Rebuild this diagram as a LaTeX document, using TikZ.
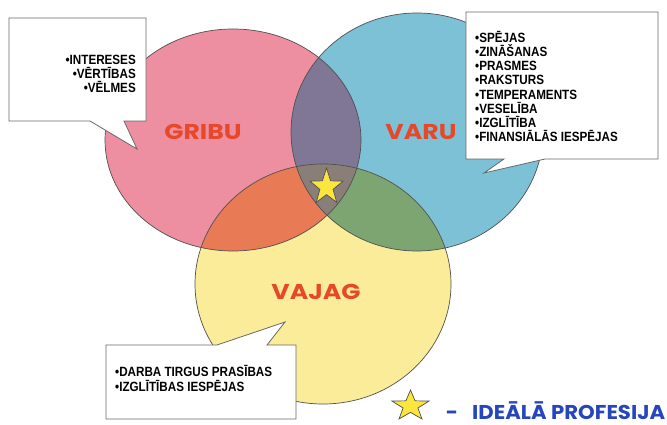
\documentclass[tikz,border=0pt]{standalone}
\usepackage{fontspec}
\setmainfont{Liberation Sans}
\newfontfamily\boxfont{Liberation Sans}[FakeStretch=0.87]
\newfontfamily\bigfont{Poppins}[FakeStretch=1.17]
\newfontfamily\legfont{Poppins}[FakeStretch=1.06]
\definecolor{pinkc}{RGB}{238,142,161}
\definecolor{bluec}{RGB}{124,193,213}
\definecolor{yellowc}{RGB}{250,236,152}
\definecolor{purplec}{RGB}{128,118,150}
\definecolor{orangec}{RGB}{232,122,86}
\definecolor{greenc}{RGB}{124,165,114}
\definecolor{centerc}{RGB}{138,126,120}
\definecolor{labelred}{RGB}{232,72,42}
\definecolor{legblue}{RGB}{38,70,190}
\definecolor{outlinec}{RGB}{80,80,80}
\definecolor{boxline}{RGB}{105,105,105}
\definecolor{starc}{RGB}{250,230,60}
\tikzset{
  outline/.style={draw=outlinec, line width=0.7pt},
  callout/.style={fill=white, draw=boxline, line width=0.8pt},
  boxtext/.style={inner sep=0pt, font=\boxfont\bfseries\fontsize{13.4}{14}\selectfont},
  biglabel/.style={inner sep=0pt, anchor=base, text=labelred, font=\bigfont\bfseries\fontsize{21.5}{24}\selectfont},
  starshape/.style={fill=starc, draw=outlinec, line width=0.7pt, line join=miter},
}
\begin{document}
\begin{tikzpicture}[x=1pt,y=-1pt]
\useasboundingbox (0,0) rectangle (667,425);
\fill[white] (0,0) rectangle (667,425);
% base circles
\fill[pinkc] (233,140) ellipse [x radius=128, y radius=111];
\fill[bluec] (417,132) ellipse [x radius=126, y radius=119];
\fill[yellowc] (323,284) ellipse [x radius=128, y radius=120];
% overlaps
\begin{scope}
  \clip (233,140) ellipse [x radius=128, y radius=111];
  \fill[purplec] (417,132) ellipse [x radius=126, y radius=119];
  \fill[orangec] (323,284) ellipse [x radius=128, y radius=120];
\end{scope}
\begin{scope}
  \clip (417,132) ellipse [x radius=126, y radius=119];
  \fill[greenc] (323,284) ellipse [x radius=128, y radius=120];
\end{scope}
\begin{scope}
  \clip (233,140) ellipse [x radius=128, y radius=111];
  \clip (417,132) ellipse [x radius=126, y radius=119];
  \fill[centerc] (323,284) ellipse [x radius=128, y radius=120];
\end{scope}
% outlines
\draw[outline] (233,140) ellipse [x radius=128, y radius=111];
\draw[outline] (417,132) ellipse [x radius=126, y radius=119];
\draw[outline] (323,284) ellipse [x radius=128, y radius=120];
% labels
\node[biglabel] (gribu) at (203,140) {GRIBU};
\node[biglabel] (varu) at (421,140) {VARU};
\node[biglabel] (vajag) at (316,299) {VAJAG};
% centre star
\begin{scope}[shift={(326.5,187)}, xscale=17.4, yscale=19]
  \draw[starshape] (-90:1) -- (-54:0.4) -- (-18:1) -- (18:0.4) -- (54:1) -- (90:0.4)
     -- (126:1) -- (162:0.4) -- (198:1) -- (234:0.4) -- cycle;
\end{scope}
% callout 1
\draw[callout] (9,18) -- (146,18) -- (146,121) -- (124,121) -- (137,149) -- (90,121) -- (9,121) -- cycle;
\node[boxtext, anchor=base east] (w1) at (136,64.5) {•INTERESES};
\node[boxtext, anchor=base east] (w2) at (136,79) {•VĒRTĪBAS};
\node[boxtext, anchor=base east] (w3) at (136,93) {•VĒLMES};
% callout 2
\draw[callout] (466,12) -- (658,12) -- (658,159) -- (545,159) -- (484,173) -- (504,159) -- (466,159) -- cycle;
\node[boxtext, anchor=base west] (c1) at (475,42.3) {•SPĒJAS};
\node[boxtext, anchor=base west] (c2) at (475,56.6) {•ZINĀŠANAS};
\node[boxtext, anchor=base west] (c3) at (475,70.8) {•PRASMES};
\node[boxtext, anchor=base west] (c4) at (475,85) {•RAKSTURS};
\node[boxtext, anchor=base west] (c5) at (475,99.2) {•TEMPERAMENTS};
\node[boxtext, anchor=base west] (c6) at (475,113.4) {•VESELĪBA};
\node[boxtext, anchor=base west] (c7) at (475,127.6) {•IZGLĪTĪBA};
\node[boxtext, anchor=base west] (c8) at (475,141.8) {•FINANSIĀLĀS IESPĒJAS};
% callout 3
\draw[callout] (106,345) -- (217,345) -- (285,322) -- (267,345) -- (296,345) -- (296,419) -- (106,419) -- cycle;
\node[boxtext, anchor=base west] (n1) at (115,376) {•DARBA TIRGUS PRASĪBAS};
\node[boxtext, anchor=base west] (n2) at (115,391.7) {•IZGLĪTĪBAS IESPĒJAS};
% legend
\begin{scope}[shift={(410.5,406)}, xscale=19.5, yscale=16]
  \draw[starshape] (-90:1) -- (-54:0.4) -- (-18:1) -- (18:0.4) -- (54:1) -- (90:0.4)
     -- (126:1) -- (162:0.4) -- (198:1) -- (234:0.4) -- cycle;
\end{scope}
\node[inner sep=0pt, anchor=base, text=legblue, font=\legfont\bfseries\fontsize{20}{24}\selectfont] (dash) at (452,419) {-};
\node[inner sep=0pt, anchor=base west, text=legblue, font=\legfont\bfseries\fontsize{20}{24}\selectfont] (ideal) at (472,419) {IDEĀLĀ PROFESIJA};
\end{tikzpicture}
\end{document}
